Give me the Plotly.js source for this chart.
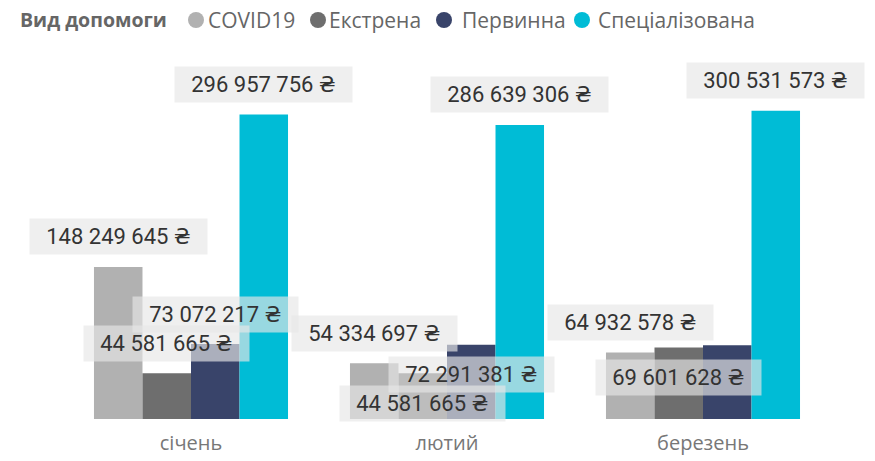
<!DOCTYPE html>
<html>
<head>
<meta charset="utf-8">
<script src="https://cdn.plot.ly/plotly-3.0.1.min.js"></script>
<style>html,body{margin:0;padding:0;background:#fff}#chart{width:875px;height:461px}</style>
</head>
<body>
<div id="chart"></div>
<script>
// ---- data ----
const months = ['січень', 'лютий', 'березень'];
const seriesNames = ['COVID19', 'Екстрена', 'Первинна', 'Спеціалізована'];
const covid19 = [148249645, 54334697, 64932578];
const ekstrena = [44581665, 44581665, 69601628];
const pervynna = [73072217, 72291381, 72000000];
const spetsializovana = [296957756, 286639306, 300531573];
const legendTitle = 'Вид допомоги';

// ---- styling ----
const values = [covid19, ekstrena, pervynna, spetsializovana];
const colors = ['#B1B1B1', '#6E6E6E', '#39446A', '#00BCD6'];
// label placement chosen by the original (to avoid overlaps)
const labelPlace = [
  ['above', 'above', 'above'],
  ['above', 'inside', 'inside'],
  ['above', 'inside', 'none'],
  ['above', 'above', 'above']
];
const labelDrawOrder = [3, 2, 1, 0];
const bargap = 0.242;
const W = 875, H = 461;
const margin = {l: 63, r: 44, t: 60, b: 42, autoexpand: false};
const plotW = W - margin.l - margin.r, plotH = H - margin.t - margin.b;

function fmt(v) {
  return String(Math.round(v)).replace(/\B(?=(\d{3})+(?!\d))/g, ' ') + ' ₴';
}

const traces = seriesNames.map((name, i) => ({
  type: 'bar',
  name: name,
  x: months,
  y: values[i],
  marker: {color: colors[i]},
  showlegend: false,
  hoverinfo: 'none'
}));

const annotations = [];
const barW = (1 - bargap) / seriesNames.length;
labelDrawOrder.forEach(i => {
  months.forEach((m, j) => {
    const place = labelPlace[i][j];
    if (place === 'none') return;
    annotations.push({
      x: j + (i - (seriesNames.length - 1) / 2) * barW,
      y: values[i][j],
      xref: 'x', yref: 'y',
      text: '\u2002' + fmt(values[i][j]) + '\u2002',
      showarrow: false,
      yshift: place === 'above' ? 30 : -30,
      font: {family: 'Roboto, "DejaVu Sans", sans-serif', size: 22, color: '#333333'},
      bgcolor: 'rgba(231,231,231,0.66)',
      borderpad: 5
    });
  });
});

// legend built as text + circle shapes
const px2x = px => (px - margin.l) / plotW;
const py2y = py => (H - margin.b - py) / plotH;
const legY = 20;
annotations.push({
  xref: 'paper', yref: 'paper', x: px2x(18), y: py2y(legY), xanchor: 'left', yanchor: 'middle',
  text: '<b>' + legendTitle + '</b>', showarrow: false,
  font: {family: '"Open Sans", sans-serif', size: 19.5, color: '#666666'}
});
const circleX = [196, 318, 444, 582];
const textX = [206, 327, 460, 596];
const shapes = [];
seriesNames.forEach((name, i) => {
  shapes.push({
    type: 'circle', xref: 'paper', yref: 'paper',
    xsizemode: 'pixel', ysizemode: 'pixel',
    xanchor: px2x(circleX[i]), yanchor: py2y(legY),
    x0: -8, x1: 8, y0: -8, y1: 8,
    fillcolor: colors[i], line: {width: 0}
  });
  annotations.push({
    xref: 'paper', yref: 'paper', x: px2x(textX[i]), y: py2y(legY), xanchor: 'left', yanchor: 'middle',
    text: name, showarrow: false,
    font: {family: '"Open Sans", sans-serif', size: 21, color: '#666666'}
  });
});

const layout = {
  width: W, height: H,
  margin: margin,
  paper_bgcolor: '#ffffff', plot_bgcolor: '#ffffff',
  barmode: 'group', bargap: bargap, bargroupgap: 0,
  xaxis: {
    type: 'category', range: [-0.5, months.length - 0.5], autorange: false,
    showline: false, showgrid: false, zeroline: false, ticks: '',
    ticklabelstandoff: 10,
    tickfont: {family: '"Open Sans", sans-serif', size: 20, color: '#777777'}
  },
  yaxis: {range: [0, 350000000], autorange: false, visible: false, showgrid: false, zeroline: false},
  annotations: annotations,
  shapes: shapes,
  showlegend: false
};

Plotly.newPlot('chart', traces, layout, {staticPlot: true, displayModeBar: false});
</script>
</body>
</html>
